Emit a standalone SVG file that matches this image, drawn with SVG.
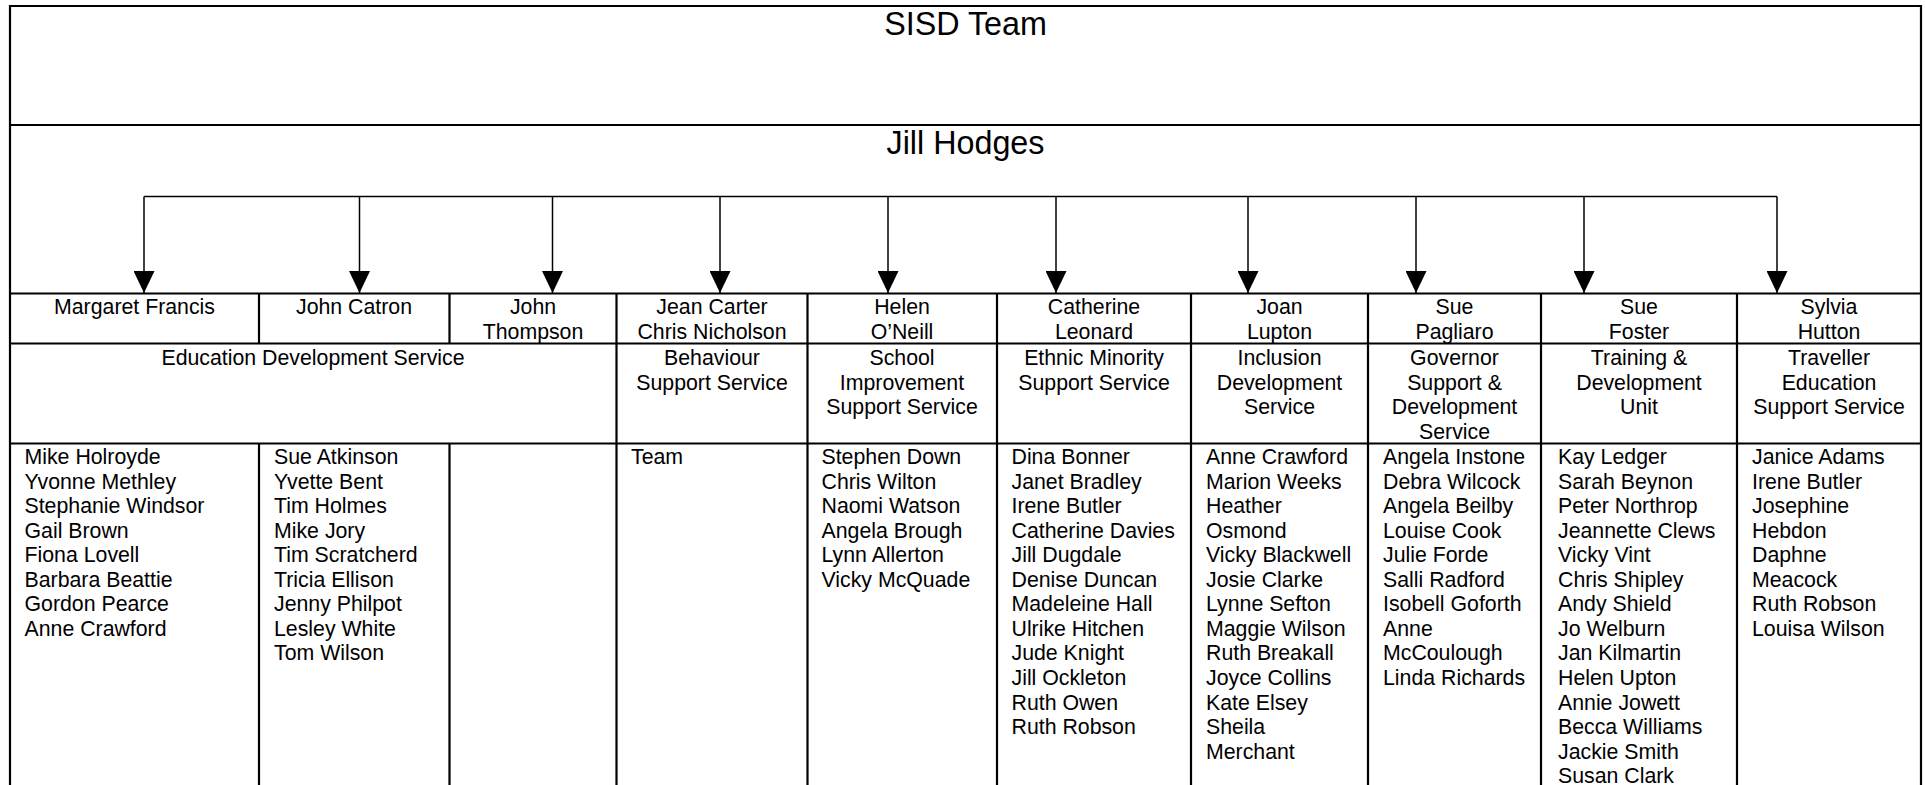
<svg xmlns="http://www.w3.org/2000/svg" width="1925" height="785" viewBox="0 0 1925 785">
<defs>
<marker id="ah" markerUnits="userSpaceOnUse" viewBox="0 0 22 21" refX="22" refY="10.5" markerWidth="22" markerHeight="21" orient="auto">
<path d="M0,0 L22,10.5 L0,21 Z" fill="#000"/>
</marker>
<style>
.t{font-family:"Liberation Sans",Arial,sans-serif;fill:#000}
.big{font-size:32.3px;text-anchor:middle}
.c{font-size:21.3px;text-anchor:middle}
.l{font-size:21.3px}
.grid{stroke:#000;stroke-width:2.2;fill:none}
.con{stroke:#000;stroke-width:1.5;fill:none}
</style>
</defs>
<rect x="0" y="0" width="1925" height="785" fill="#fff"/>
<g id="frame" class="grid">
<path d="M10,785 V6 H1921 V785"/>
<path d="M10,125 H1921 M10,293.5 H1921 M10,343.5 H1921 M10,443.5 H1921"/>
<path d="M259,293.5 V343.5 M449.5,293.5 V343.5 M259,443.5 V785 M449.5,443.5 V785"/>
<path d="M616.5,293.5 V785 M807.5,293.5 V785 M997,293.5 V785 M1191,293.5 V785 M1368,293.5 V785 M1541,293.5 V785 M1737,293.5 V785"/>
</g>
<g id="sisd-team"><text class="t big" x="965.5" y="35">SISD Team</text></g>
<g id="jill-hodges"><text class="t big" x="965.5" y="154">Jill Hodges</text></g>
<g id="connectors" class="con">
<path d="M144,196.5 H1777"/>
<path d="M144,196.5 V293" marker-end="url(#ah)"/>
<path d="M359.5,196.5 V293" marker-end="url(#ah)"/>
<path d="M552.5,196.5 V293" marker-end="url(#ah)"/>
<path d="M720,196.5 V293" marker-end="url(#ah)"/>
<path d="M888,196.5 V293" marker-end="url(#ah)"/>
<path d="M1056,196.5 V293" marker-end="url(#ah)"/>
<path d="M1248,196.5 V293" marker-end="url(#ah)"/>
<path d="M1416,196.5 V293" marker-end="url(#ah)"/>
<path d="M1584,196.5 V293" marker-end="url(#ah)"/>
<path d="M1777,196.5 V293" marker-end="url(#ah)"/>
</g>
<g id="margaret-francis">
<text class="t c" x="134.5" y="314">Margaret Francis</text>
<text class="t l" x="24.5" y="464"><tspan x="24.5" dy="0">Mike Holroyde</tspan><tspan x="24.5" dy="24.55">Yvonne Methley</tspan><tspan x="24.5" dy="24.55">Stephanie Windsor</tspan><tspan x="24.5" dy="24.55">Gail Brown</tspan><tspan x="24.5" dy="24.55">Fiona Lovell</tspan><tspan x="24.5" dy="24.55">Barbara Beattie</tspan><tspan x="24.5" dy="24.55">Gordon Pearce</tspan><tspan x="24.5" dy="24.55">Anne Crawford</tspan></text>
</g>
<g id="john-catron">
<text class="t c" x="354" y="314">John Catron</text>
<text class="t l" x="274" y="464"><tspan x="274" dy="0">Sue Atkinson</tspan><tspan x="274" dy="24.55">Yvette Bent</tspan><tspan x="274" dy="24.55">Tim Holmes</tspan><tspan x="274" dy="24.55">Mike Jory</tspan><tspan x="274" dy="24.55">Tim Scratcherd</tspan><tspan x="274" dy="24.55">Tricia Ellison</tspan><tspan x="274" dy="24.55">Jenny Philpot</tspan><tspan x="274" dy="24.55">Lesley White</tspan><tspan x="274" dy="24.55">Tom Wilson</tspan></text>
</g>
<g id="john-thompson">
<text class="t c" x="533" y="314"><tspan x="533" dy="0">John</tspan><tspan x="533" dy="24.55">Thompson</tspan></text>
</g>
<g id="education-development-service">
<text class="t c" x="313" y="365">Education Development Service</text>
</g>
<g id="behaviour-support">
<text class="t c" x="712" y="314"><tspan x="712" dy="0">Jean Carter</tspan><tspan x="712" dy="24.55">Chris Nicholson</tspan></text>
<text class="t c" x="712" y="365"><tspan x="712" dy="0">Behaviour</tspan><tspan x="712" dy="24.55">Support Service</tspan></text>
<text class="t l" x="631" y="464">Team</text>
</g>
<g id="school-improvement">
<text class="t c" x="902" y="314"><tspan x="902" dy="0">Helen</tspan><tspan x="902" dy="24.55">O’Neill</tspan></text>
<text class="t c" x="902" y="365"><tspan x="902" dy="0">School</tspan><tspan x="902" dy="24.55">Improvement</tspan><tspan x="902" dy="24.55">Support Service</tspan></text>
<text class="t l" x="821.5" y="464"><tspan x="821.5" dy="0">Stephen Down</tspan><tspan x="821.5" dy="24.55">Chris Wilton</tspan><tspan x="821.5" dy="24.55">Naomi Watson</tspan><tspan x="821.5" dy="24.55">Angela Brough</tspan><tspan x="821.5" dy="24.55">Lynn Allerton</tspan><tspan x="821.5" dy="24.55">Vicky McQuade</tspan></text>
</g>
<g id="ethnic-minority">
<text class="t c" x="1094" y="314"><tspan x="1094" dy="0">Catherine</tspan><tspan x="1094" dy="24.55">Leonard</tspan></text>
<text class="t c" x="1094" y="365"><tspan x="1094" dy="0">Ethnic Minority</tspan><tspan x="1094" dy="24.55">Support Service</tspan></text>
<text class="t l" x="1011.5" y="464"><tspan x="1011.5" dy="0">Dina Bonner</tspan><tspan x="1011.5" dy="24.55">Janet Bradley</tspan><tspan x="1011.5" dy="24.55">Irene Butler</tspan><tspan x="1011.5" dy="24.55">Catherine Davies</tspan><tspan x="1011.5" dy="24.55">Jill Dugdale</tspan><tspan x="1011.5" dy="24.55">Denise Duncan</tspan><tspan x="1011.5" dy="24.55">Madeleine Hall</tspan><tspan x="1011.5" dy="24.55">Ulrike Hitchen</tspan><tspan x="1011.5" dy="24.55">Jude Knight</tspan><tspan x="1011.5" dy="24.55">Jill Ockleton</tspan><tspan x="1011.5" dy="24.55">Ruth Owen</tspan><tspan x="1011.5" dy="24.55">Ruth Robson</tspan></text>
</g>
<g id="inclusion-development">
<text class="t c" x="1279.5" y="314"><tspan x="1279.5" dy="0">Joan</tspan><tspan x="1279.5" dy="24.55">Lupton</tspan></text>
<text class="t c" x="1279.5" y="365"><tspan x="1279.5" dy="0">Inclusion</tspan><tspan x="1279.5" dy="24.55">Development</tspan><tspan x="1279.5" dy="24.55">Service</tspan></text>
<text class="t l" x="1206" y="464"><tspan x="1206" dy="0">Anne Crawford</tspan><tspan x="1206" dy="24.55">Marion Weeks</tspan><tspan x="1206" dy="24.55">Heather</tspan><tspan x="1206" dy="24.55">Osmond</tspan><tspan x="1206" dy="24.55">Vicky Blackwell</tspan><tspan x="1206" dy="24.55">Josie Clarke</tspan><tspan x="1206" dy="24.55">Lynne Sefton</tspan><tspan x="1206" dy="24.55">Maggie Wilson</tspan><tspan x="1206" dy="24.55">Ruth Breakall</tspan><tspan x="1206" dy="24.55">Joyce Collins</tspan><tspan x="1206" dy="24.55">Kate Elsey</tspan><tspan x="1206" dy="24.55">Sheila</tspan><tspan x="1206" dy="24.55">Merchant</tspan></text>
</g>
<g id="governor-support">
<text class="t c" x="1454.5" y="314"><tspan x="1454.5" dy="0">Sue</tspan><tspan x="1454.5" dy="24.55">Pagliaro</tspan></text>
<text class="t c" x="1454.5" y="365"><tspan x="1454.5" dy="0">Governor</tspan><tspan x="1454.5" dy="24.55">Support &amp;</tspan><tspan x="1454.5" dy="24.55">Development</tspan><tspan x="1454.5" dy="24.55">Service</tspan></text>
<text class="t l" x="1383" y="464"><tspan x="1383" dy="0">Angela Instone</tspan><tspan x="1383" dy="24.55">Debra Wilcock</tspan><tspan x="1383" dy="24.55">Angela Beilby</tspan><tspan x="1383" dy="24.55">Louise Cook</tspan><tspan x="1383" dy="24.55">Julie Forde</tspan><tspan x="1383" dy="24.55">Salli Radford</tspan><tspan x="1383" dy="24.55">Isobell Goforth</tspan><tspan x="1383" dy="24.55">Anne</tspan><tspan x="1383" dy="24.55">McCoulough</tspan><tspan x="1383" dy="24.55">Linda Richards</tspan></text>
</g>
<g id="training-development">
<text class="t c" x="1639" y="314"><tspan x="1639" dy="0">Sue</tspan><tspan x="1639" dy="24.55">Foster</tspan></text>
<text class="t c" x="1639" y="365"><tspan x="1639" dy="0">Training &amp;</tspan><tspan x="1639" dy="24.55">Development</tspan><tspan x="1639" dy="24.55">Unit</tspan></text>
<text class="t l" x="1558" y="464"><tspan x="1558" dy="0">Kay Ledger</tspan><tspan x="1558" dy="24.55">Sarah Beynon</tspan><tspan x="1558" dy="24.55">Peter Northrop</tspan><tspan x="1558" dy="24.55">Jeannette Clews</tspan><tspan x="1558" dy="24.55">Vicky Vint</tspan><tspan x="1558" dy="24.55">Chris Shipley</tspan><tspan x="1558" dy="24.55">Andy Shield</tspan><tspan x="1558" dy="24.55">Jo Welburn</tspan><tspan x="1558" dy="24.55">Jan Kilmartin</tspan><tspan x="1558" dy="24.55">Helen Upton</tspan><tspan x="1558" dy="24.55">Annie Jowett</tspan><tspan x="1558" dy="24.55">Becca Williams</tspan><tspan x="1558" dy="24.55">Jackie Smith</tspan><tspan x="1558" dy="24.55">Susan Clark</tspan></text>
</g>
<g id="traveller-education">
<text class="t c" x="1829" y="314"><tspan x="1829" dy="0">Sylvia</tspan><tspan x="1829" dy="24.55">Hutton</tspan></text>
<text class="t c" x="1829" y="365"><tspan x="1829" dy="0">Traveller</tspan><tspan x="1829" dy="24.55">Education</tspan><tspan x="1829" dy="24.55">Support Service</tspan></text>
<text class="t l" x="1752" y="464"><tspan x="1752" dy="0">Janice Adams</tspan><tspan x="1752" dy="24.55">Irene Butler</tspan><tspan x="1752" dy="24.55">Josephine</tspan><tspan x="1752" dy="24.55">Hebdon</tspan><tspan x="1752" dy="24.55">Daphne</tspan><tspan x="1752" dy="24.55">Meacock</tspan><tspan x="1752" dy="24.55">Ruth Robson</tspan><tspan x="1752" dy="24.55">Louisa Wilson</tspan></text>
</g>
</svg>
